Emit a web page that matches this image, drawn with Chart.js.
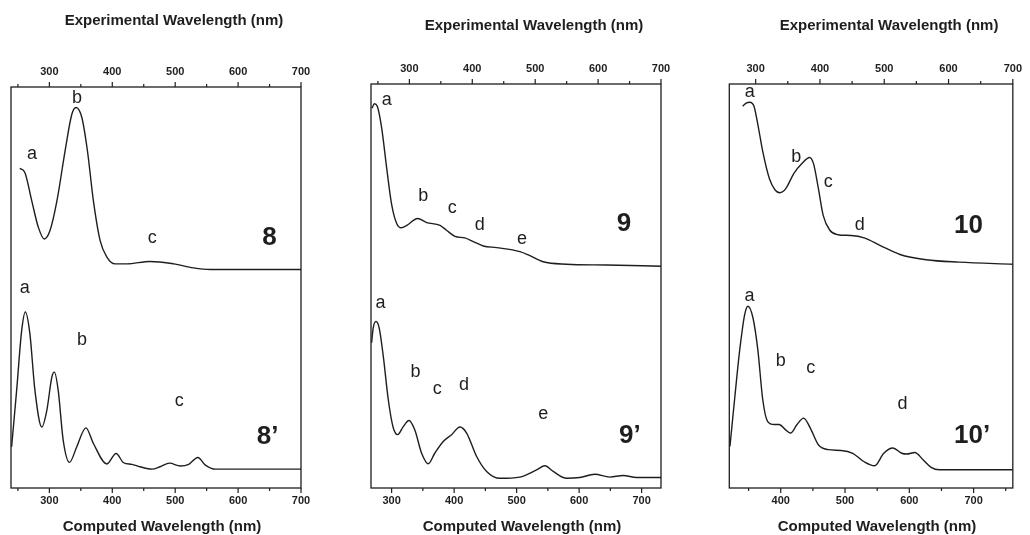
<!DOCTYPE html>
<html>
<head>
<meta charset="utf-8">
<script src="https://cdn.jsdelivr.net/npm/chart.js@4.4.0/dist/chart.umd.min.js"></script>
<style>
  body { margin: 0; background: #fff; width: 1030px; height: 535px; position: relative; overflow: hidden; }
  canvas { position: absolute; top: 0; }
</style>
</head>
<body>
<canvas id="c8" width="340" height="535" style="left:0"></canvas>
<canvas id="c9" width="345" height="535" style="left:340px"></canvas>
<canvas id="c10" width="340" height="535" style="left:690px"></canvas>
<script>
// --- SPECTRA (wavelength in nm, absorbance in arbitrary units) ---
// compound 8
const exp8Wl   = [253, 261, 272, 282.5, 292, 301, 312, 325, 335.7, 342.5, 351.6, 360.5, 370, 380.7, 391.4, 404.6, 423, 460, 497.5, 529, 556, 700];
const exp8Abs  = [79.7, 78.7, 71.6, 65.0, 62.1, 64.2, 71.6, 84.1, 93.2, 94.9, 92.4, 84.1, 71.6, 61.7, 57.6, 55.9, 55.9, 56.5, 55.9, 54.9, 54.5, 54.5];
const calc8Wl  = [240, 248, 256, 261.8, 269, 277, 288, 296, 304, 308, 314, 322, 332, 343.6, 358, 370, 391.4, 406, 418, 431, 444, 463, 476, 491, 508, 521.5, 536, 548, 564, 700];
const calc8Abs = [10.3, 24.4, 39.3, 43.9, 38.5, 24.4, 15.2, 19.4, 27.7, 28.9, 24.4, 11.9, 6.4, 10.3, 15.0, 11.1, 6.0, 8.6, 6.3, 5.9, 5.3, 4.7, 5.3, 6.2, 5.5, 5.9, 7.6, 5.7, 4.7, 4.7];

// compound 9
const exp9Wl   = [240.5, 244.4, 249, 256, 264, 272, 280, 287, 296, 313, 327.6, 348.7, 359, 372.5, 388, 401.6, 417.5, 438.7, 475.7, 491.6, 512.7, 549.8, 613, 700];
const exp9Abs  = [94.0, 95.1, 94.5, 89.1, 79.1, 70.0, 65.4, 64.4, 65.0, 66.7, 65.7, 65.0, 63.8, 62.3, 61.9, 61.0, 59.9, 59.5, 58.5, 57.5, 56.0, 55.4, 55.2, 54.9];
const calc9Wl  = [268, 270.6, 275, 280, 286.6, 294.6, 302.6, 309.6, 318.6, 327.7, 337, 348, 358.6, 369, 382.6, 396, 409.3, 420, 436, 452, 473, 505, 532, 545.3, 558.6, 580, 601, 625, 649, 670.6, 692, 731];
const calc9Abs = [36.0, 39.7, 41.2, 39.7, 32.7, 21.9, 14.9, 13.2, 15.2, 16.7, 14.4, 8.6, 6.0, 8.6, 11.5, 13.2, 15.1, 13.6, 7.8, 4.1, 2.4, 2.7, 4.5, 5.5, 4.1, 2.4, 2.6, 3.4, 2.7, 3.1, 2.6, 2.6];

// compound 10
const exp10Wl   = [279.7, 285.8, 290.9, 297.4, 303.5, 311, 321.3, 330.5, 337.6, 346.8, 359.5, 372, 383.8, 390, 397.6, 405, 415.4, 428, 448.3, 468.8, 494, 524.5, 565, 616, 700];
const exp10Abs  = [94.5, 95.3, 95.5, 94.5, 89.9, 83.3, 76.6, 73.7, 73.1, 74.1, 77.9, 80.3, 81.8, 80.3, 74.1, 67.5, 63.8, 62.7, 62.5, 61.9, 60.0, 57.8, 56.5, 55.9, 55.4];
const calc10Wl  = [321, 328.7, 336.3, 344, 349, 356.7, 364.3, 372, 379.5, 390, 397.4, 407.6, 415.3, 425.3, 435.6, 445.8, 458.5, 473.7, 494, 512, 529.8, 546, 560.3, 574.5, 588.2, 596, 608.5, 621.4, 634, 646.7, 761];
const calc10Abs = [10.3, 22.7, 34.3, 43.0, 45.0, 42.2, 34.3, 21.9, 16.5, 15.7, 15.7, 14.4, 13.6, 15.7, 17.3, 14.9, 10.7, 9.5, 9.3, 8.6, 6.5, 5.5, 8.6, 9.9, 8.6, 8.4, 8.8, 7.0, 5.1, 4.5, 4.5];

// tick labels shown on both wavelength axes
const tickLabels = [300, 400, 500, 600, 700];

// band letters: [text, wavelength, absorbance, onComputedAxis]
const bands8 = [
  ['a', 272.5, 83.3, false], ['b', 344, 97.3, false], ['c', 463.5, 62.4, false],
  ['a', 261, 49.8, true], ['b', 352, 36.8, true], ['c', 506.5, 21.6, true]
];
const bands9 = [
  ['a', 264, 96.1, false], ['b', 322, 72.3, false], ['c', 368, 69.3, false], ['d', 412, 65.2, false], ['e', 479, 61.7, false],
  ['a', 282.4, 45.8, true], ['b', 338.4, 28.7, true], ['c', 373, 24.6, true], ['d', 415.7, 25.6, true], ['e', 542.6, 18.2, true]
];
const bands10 = [
  ['a', 290.9, 98.0, false], ['b', 363, 81.8, false], ['c', 412.8, 75.8, false], ['d', 462, 65.0, false],
  ['a', 351.6, 47.6, true], ['b', 400, 31.4, true], ['c', 446.7, 29.8, true], ['d', 589.3, 20.8, true]
];

const INK = '#1e1e1e';
const FONT = '"Liberation Sans", Arial, sans-serif';
const TOP_TITLE = 'Experimental Wavelength (nm)';
const BOTTOM_TITLE = 'Computed Wavelength (nm)';

function toPoints(xs, ys) {
  return xs.map((x, i) => ({ x: x, y: ys[i] }));
}

// frame, tick marks, axis titles and band letters
const panelDecor = {
  id: 'panelDecor',
  afterDraw(chart, args, o) {
    const { ctx, chartArea: a, scales } = chart;
    ctx.save();
    ctx.strokeStyle = INK;
    ctx.lineWidth = 1.3;
    ctx.strokeRect(a.left, a.top, a.right - a.left, a.bottom - a.top);

    ctx.lineWidth = 1.2;
    [[scales.xTop, a.top, -1], [scales.x, a.bottom, 1]].forEach(([s, y0, dir]) => {
      for (let v = Math.ceil(s.min / 50) * 50; v <= s.max + 0.01; v += 50) {
        const px = s.getPixelForValue(v);
        const len = v % 100 === 0 ? 5 : 3;
        ctx.beginPath();
        ctx.moveTo(px, y0);
        ctx.lineTo(px, y0 + dir * len);
        ctx.stroke();
      }
    });

    ctx.fillStyle = INK;
    ctx.textAlign = 'center';
    ctx.textBaseline = 'alphabetic';
    ctx.font = 'bold 15px ' + FONT;
    const mid = (a.left + a.right) / 2;
    ctx.fillText(TOP_TITLE, mid + 18, o.topY);
    ctx.fillText(BOTTOM_TITLE, mid + 6, 531);

    ctx.textBaseline = 'middle';
    ctx.font = '18px ' + FONT;
    o.bands.forEach(([t, wl, v, calc]) => {
      const s = calc ? scales.x : scales.xTop;
      ctx.fillText(t, s.getPixelForValue(wl), scales.y.getPixelForValue(v));
    });
    ctx.font = 'bold 26px ' + FONT;
    o.names.forEach(([t, wl, v, calc]) => {
      const s = calc ? scales.x : scales.xTop;
      ctx.fillText(t, s.getPixelForValue(wl), scales.y.getPixelForValue(v));
    });
    ctx.restore();
  }
};

function wlAxis(position, min, max, height, pad) {
  return {
    type: 'linear',
    position: position,
    min: min,
    max: max,
    grid: { display: false, drawTicks: false },
    border: { display: false },
    afterBuildTicks: s => { s.ticks = tickLabels.filter(v => v >= min && v <= max).map(v => ({ value: v })); },
    afterFit: s => { s.height = height; },
    ticks: {
      autoSkip: false,
      maxRotation: 0,
      padding: pad,
      color: INK,
      font: { family: FONT, size: 11, weight: 'bold' }
    }
  };
}

function makePanel(id, p) {
  new Chart(document.getElementById(id), {
    type: 'scatter',
    data: {
      datasets: [
        { data: toPoints(p.expWl, p.expAbs), xAxisID: 'xTop' },
        { data: toPoints(p.calcWl, p.calcAbs), xAxisID: 'x' }
      ]
    },
    options: {
      responsive: false,
      animation: false,
      events: [],
      showLine: true,
      elements: {
        point: { radius: 0 },
        line: { borderColor: INK, borderWidth: 1.4, cubicInterpolationMode: 'monotone', fill: false }
      },
      layout: { padding: { left: p.padL, right: p.padR, top: 0, bottom: 0 } },
      scales: {
        xTop: wlAxis('top', p.topRange[0], p.topRange[1], p.boxTop, 8),
        x: wlAxis('bottom', p.botRange[0], p.botRange[1], 535 - 488, 6),
        y: { display: false, min: 0, max: 100 }
      },
      plugins: {
        legend: { display: false },
        tooltip: { enabled: false },
        panelDecor: { topY: p.titleY, bands: p.bands, names: p.names }
      }
    },
    plugins: [panelDecor]
  });
}

makePanel('c8', {
  expWl: exp8Wl, expAbs: exp8Abs, calcWl: calc8Wl, calcAbs: calc8Abs,
  topRange: [239, 700], botRange: [239, 700], padL: 11, padR: 39, boxTop: 87, titleY: 25,
  bands: bands8, names: [['8', 650, 62.4, false], ['8\u2019', 647, 12.7, true]]
});
makePanel('c9', {
  expWl: exp9Wl, expAbs: exp9Abs, calcWl: calc9Wl, calcAbs: calc9Abs,
  topRange: [239, 700], botRange: [267, 731], padL: 31, padR: 24, boxTop: 84, titleY: 30,
  bands: bands9, names: [['9', 641, 65.4, false], ['9\u2019', 681.3, 12.8, true]]
});
makePanel('c10', {
  expWl: exp10Wl, expAbs: exp10Abs, calcWl: calc10Wl, calcAbs: calc10Abs,
  topRange: [259, 700], botRange: [320, 761], padL: 39.3, padR: 11.7, boxTop: 84, titleY: 30,
  bands: bands10, names: [['10', 631, 65.0, false], ['10\u2019', 697.7, 12.8, true]]
});
</script>
</body>
</html>
